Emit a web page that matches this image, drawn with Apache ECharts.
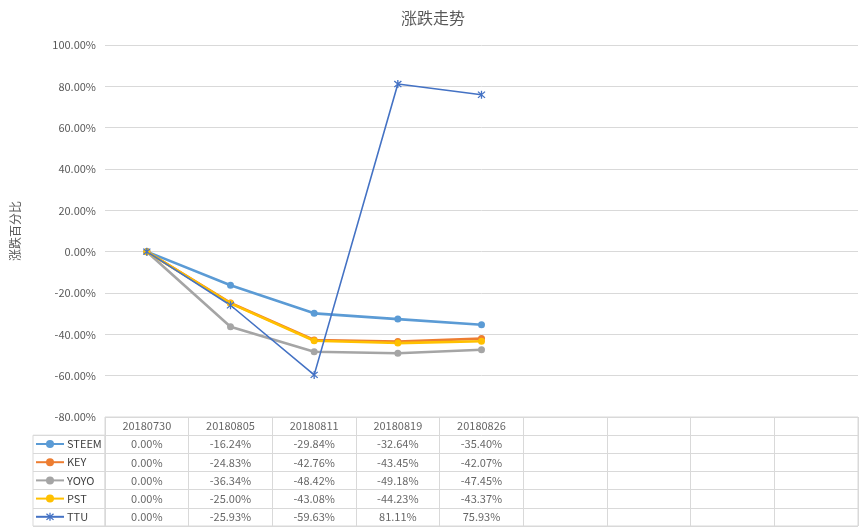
<!DOCTYPE html>
<html><head><meta charset="utf-8">
<script src="https://cdn.jsdelivr.net/npm/echarts@6/dist/echarts.min.js"></script>
<style>html,body{margin:0;padding:0;background:#fff}#c{width:866px;height:527px}</style>
</head><body><div id="c"></div>
<script>
var dates = ['20180730','20180805','20180811','20180819','20180826'];
var emptyCols = [' ','  ','   ','    '];
var seriesNames = ['STEEM','KEY','YOYO','PST','TTU'];
var steem = [0.00, -16.24, -29.84, -32.64, -35.40];
var key   = [0.00, -24.83, -42.76, -43.45, -42.07];
var yoyo  = [0.00, -36.34, -48.42, -49.18, -47.45];
var pst   = [0.00, -25.00, -43.08, -44.23, -43.37];
var ttu   = [0.00, -25.93, -59.63, 81.11, 75.93];
var colors = ['#5B9BD5','#ED7D31','#A5A5A5','#FFC000','#4472C4'];
var yTicks = {min:-80, max:100, interval:20};

var allValues = [steem, key, yoyo, pst, ttu];
var categories = dates.concat(emptyCols);
var rows = ['hdr'].concat(seriesNames);
var FONT = '"Noto Sans CJK SC", "Noto Sans", sans-serif';
var fmt = function(v){ return v.toFixed(2) + '%'; };
var asterisk = 'path://M4.3 0L5.7 0L5.7 10L4.3 10Z M0.7 1.7L1.7 0.7L9.3 8.3L8.3 9.3Z M8.3 0.7L9.3 1.7L1.7 9.3L0.7 8.3Z';

var lineSeries = seriesNames.map(function(n, i){
  var isTTU = n === 'TTU';
  return {
    name: n, type: 'line', xAxisIndex: 0, yAxisIndex: 0,
    data: allValues[i],
    symbol: isTTU ? asterisk : 'circle',
    symbolSize: isTTU ? 8 : 7,
    showAllSymbol: true,
    lineStyle: {color: colors[i], width: isTTU ? 1.6 : 2.6},
    itemStyle: {color: colors[i]},
    animation: false
  };
});

var cellData = [];
dates.forEach(function(d, c){ cellData.push([c, 0, d]); });
allValues.forEach(function(arr, r){
  arr.forEach(function(v, c){ cellData.push([c, r + 1, fmt(v)]); });
});

var chart = echarts.init(document.getElementById('c'));
chart.setOption({
  animation: false,
  color: colors,
  title: {text: '涨跌走势', left: 'center', top: 5,
    textStyle: {fontFamily: FONT, fontSize: 16, fontWeight: 'normal', color: '#595959'}},
  legend: {
    data: seriesNames, orient: 'vertical', left: 35, top: 437,
    itemWidth: 28, itemHeight: 10, itemGap: 4.2,
    textStyle: {fontFamily: FONT, fontSize: 11, color: '#404040', lineHeight: 14, padding: [0,0,0,-2]},
    selectedMode: false, padding: 0
  },
  grid: [
    {left: 105, right: 8, top: 45, bottom: 110},
    {left: 105, right: 8, top: 417, bottom: 1, show: true, borderColor: '#d9d9d9', borderWidth: 1},
    {left: 33, width: 72, top: 435.2, bottom: 1, show: true, borderColor: '#d9d9d9', borderWidth: 1}
  ],
  xAxis: [
    {type: 'category', gridIndex: 0, data: categories, boundaryGap: true,
     axisLine: {show: false}, axisTick: {show: false}, axisLabel: {show: false}, splitLine: {show: false}},
    {type: 'category', gridIndex: 1, data: categories, boundaryGap: true,
     axisLine: {show: false}, axisTick: {show: false}, axisLabel: {show: false},
     splitLine: {show: true, lineStyle: {color: '#d9d9d9', width: 1}}},
    {type: 'category', gridIndex: 2, data: ['name'], show: false}
  ],
  yAxis: [
    {type: 'value', gridIndex: 0, min: yTicks.min, max: yTicks.max, interval: yTicks.interval,
     name: '涨跌百分比', nameLocation: 'middle', nameGap: 84,
     nameTextStyle: {fontFamily: FONT, fontSize: 12, color: '#595959'},
     axisLine: {show: false}, axisTick: {show: false},
     axisLabel: {formatter: fmt, fontFamily: FONT, fontSize: 11, color: '#595959', margin: 9},
     splitLine: {show: true, lineStyle: {color: '#d9d9d9', width: 1}}},
    {type: 'category', gridIndex: 1, data: rows, inverse: true, boundaryGap: true,
     axisLine: {show: false}, axisTick: {show: false}, axisLabel: {show: false},
     splitLine: {show: true, lineStyle: {color: '#d9d9d9', width: 1}}},
    {type: 'category', gridIndex: 2, data: seriesNames, inverse: true, boundaryGap: true,
     axisLine: {show: false}, axisTick: {show: false}, axisLabel: {show: false},
     splitLine: {show: true, lineStyle: {color: '#d9d9d9', width: 1}}}
  ],
  series: lineSeries.concat([{
    name: 'table', type: 'scatter', xAxisIndex: 1, yAxisIndex: 1,
    data: cellData, symbolSize: 0, silent: true,
    label: {show: true, position: 'inside',
      formatter: function(p){ return p.data[2]; },
      fontFamily: FONT, fontSize: 11, color: '#404040'}
  }])
});
</script></body></html>
